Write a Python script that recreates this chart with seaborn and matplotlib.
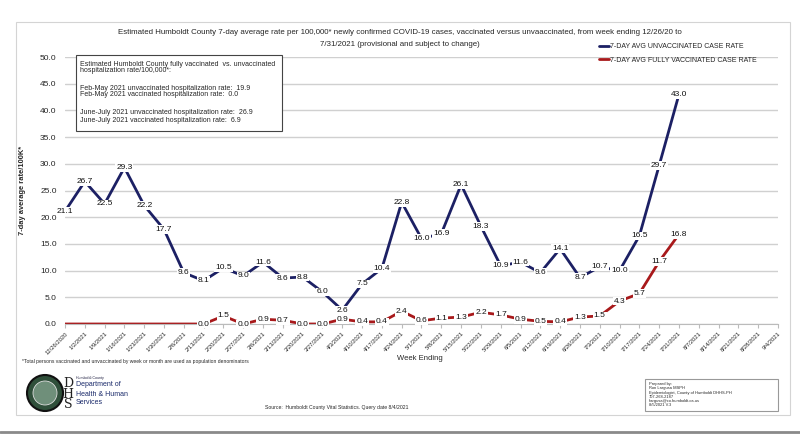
import numpy as np
import pandas as pd
import seaborn as sns
import matplotlib.pyplot as plt
from matplotlib.patches import Rectangle, Circle
from matplotlib.lines import Line2D

sns.set_style("whitegrid")
plt.rcParams['font.family'] = ['Liberation Sans', 'DejaVu Sans']

# %% Dados
weeks = ["12/26/2020", "1/2/2021", "1/9/2021", "1/16/2021", "1/23/2021", "1/30/2021",
         "2/6/2021", "2/13/2021", "2/20/2021", "2/27/2021", "3/6/2021", "3/13/2021",
         "3/20/2021", "3/27/2021", "4/3/2021", "4/10/2021", "4/17/2021", "4/24/2021",
         "5/1/2021", "5/8/2021", "5/15/2021", "5/22/2021", "5/29/2021", "6/5/2021",
         "6/12/2021", "6/19/2021", "6/26/2021", "7/3/2021", "7/10/2021", "7/17/2021",
         "7/24/2021", "7/31/2021", "8/7/2021", "8/14/2021", "8/21/2021", "8/28/2021",
         "9/4/2021"]
unvacc = [21.1, 26.7, 22.5, 29.3, 22.2, 17.7, 9.6, 8.1, 10.5, 9.0, 11.6, 8.6,
          8.8, 6.0, 2.6, 7.5, 10.4, 22.8, 16.0, 16.9, 26.1, 18.3, 10.9, 11.6,
          9.6, 14.1, 8.7, 10.7, 10.0, 16.5, 29.7, 43.0]
vacc = [0.0, 0.0, 0.0, 0.0, 0.0, 0.0, 0.0, 0.0, 1.5, 0.0, 0.9, 0.7,
        0.0, 0.0, 0.9, 0.4, 0.4, 2.4, 0.6, 1.1, 1.3, 2.2, 1.7, 0.9,
        0.5, 0.4, 1.3, 1.5, 4.3, 5.7, 11.7, 16.8]
vacc_first_label = 7  # antes disso a série não tem rótulo

unvacc_name = "7-DAY AVG UNVACCINATED CASE RATE"
vacc_name = "7-DAY AVG FULLY VACCINATED CASE RATE"
navy = "#1c2064"
red = "#a8191b"

# %% Figura
fig = plt.figure(figsize=(8, 4.37), dpi=100)
W, H = 800, 437

def fx(px):
    return px / W

def fy(py):
    return 1 - py / H

# moldura externa
fig.patches.append(Rectangle((fx(16), fy(415)), fx(790) - fx(16), fy(22) - fy(415),
                             transform=fig.transFigure, fill=False, edgecolor="#d4d4d4", lw=0.8))
fig.add_artist(Line2D([0, 1], [fy(432), fy(432)], transform=fig.transFigure, color="#8a8a8a", lw=2))

ax = fig.add_axes([fx(65), fy(324), fx(778) - fx(65), fy(57) - fy(324)])

x = np.arange(len(unvacc))
sns.lineplot(x=x, y=unvacc, ax=ax, color=navy, lw=2, label=unvacc_name)
sns.lineplot(x=x, y=vacc, ax=ax, color=red, lw=2, label=vacc_name)
ax.get_legend().remove()

# rótulos de dados
for i, v in enumerate(unvacc):
    ax.text(i, v, f"{v:.1f}", ha="center", va="center", fontsize=6, color="#111111",
            bbox=dict(facecolor="white", edgecolor="none", pad=0.6), zorder=5)
for i, v in enumerate(vacc):
    if i >= vacc_first_label:
        ax.text(i, v, f"{v:.1f}", ha="center", va="center", fontsize=6, color="#111111",
                bbox=dict(facecolor="white", edgecolor="none", pad=0.6), zorder=5)

ax.set_xlim(0, len(weeks) - 1)
ax.set_ylim(0, 50)
ax.set_yticks(np.arange(0, 50.1, 5))
ax.set_yticklabels([f"{t:.1f}" for t in np.arange(0, 50.1, 5)], fontsize=6)
ax.set_xticks(np.arange(len(weeks)))
ax.set_xticklabels(weeks, rotation=45, ha="right", rotation_mode="anchor", fontsize=4.2)
ax.tick_params(axis="x", length=3, color="#bbbbbb", pad=2, bottom=True)
ax.tick_params(axis="y", length=0, pad=6)
ax.grid(axis="x", visible=False)
ax.grid(axis="y", color="#d0d0d0", lw=1)
for s in ["left", "right", "top"]:
    ax.spines[s].set_visible(False)
ax.spines["bottom"].set_color("#bbbbbb")
ax.set_ylabel("7-day average rate/100K*", fontsize=5.4, fontweight="bold", labelpad=10)
ax.set_xlabel("")

# título
fig.text(fx(400), fy(33), "Estimated Humboldt County 7-day average rate per 100,000* newly confirmed "
         "COVID-19 cases, vaccinated versus unvaaccinated, from week ending 12/26/20 to",
         ha="center", va="center", fontsize=5.7)
fig.text(fx(400), fy(45), "7/31/2021 (provisional and subject to change)",
         ha="center", va="center", fontsize=5.7)

# legenda
handles = [Line2D([], [], color=navy, lw=2), Line2D([], [], color=red, lw=2)]
fig.legend(handles, [unvacc_name, vacc_name], loc="upper left",
           bbox_to_anchor=(fx(596), fy(40)), frameon=False, fontsize=5,
           handlelength=1.4, handletextpad=0.1, labelspacing=0.9, borderpad=0)

# caixa de hospitalização
fig.patches.append(Rectangle((fx(76), fy(131)), fx(282) - fx(76), fy(55) - fy(131),
                             transform=fig.transFigure, facecolor="white", edgecolor="#444444", lw=0.8,
                             zorder=6))
box_lines = [
    (64, "Estimated Humboldt County fully vaccinated  vs. unvaccinated"),
    (71, "hospitalization rate/100,000*:"),
    (88, "Feb-May 2021 unvaccinated hospitalization rate:  19.9"),
    (95, "Feb-May 2021 vaccinated hospitalization rate:  0.0"),
    (113, "June-July 2021 unvaccinated hospitalization rate:  26.9"),
    (120, "June-July 2021 vaccinated hospitalization rate:  6.9"),
]
for py, txt in box_lines:
    fig.text(fx(80), fy(py), txt, ha="left", va="center", fontsize=5.0, zorder=7)

# eixo x e notas
fig.text(fx(420), fy(358), "Week Ending", ha="center", va="center", fontsize=5.5)
fig.text(fx(22), fy(362), "*Total persons vaccinated and unvaccinated by week or month are used "
         "as population denominators", ha="left", va="center", fontsize=3.6)
fig.text(fx(337), fy(407), "Source:  Humboldt County Vital Statistics. Query date 8/4/2021",
         ha="center", va="center", fontsize=3.7)

# caixa "Prepared by"
fig.patches.append(Rectangle((fx(645), fy(411)), fx(778) - fx(645), fy(379) - fy(411),
                             transform=fig.transFigure, fill=False, edgecolor="#999999", lw=0.8))
fig.text(fx(649), fy(382), "Prepared by:\nRon Largusa MSPH\nEpidemiologist, County of Humboldt DHHS-PH\n"
         "707-268-2187\nrlargusa@co.humboldt.ca.us\n8/5/2021 V.3",
         ha="left", va="top", fontsize=2.9, linespacing=1.1)

# logo (aproximação)
logo = fig.add_axes([fx(24), fy(414), fx(140) - fx(24), fy(372) - fy(414)])
logo.set_xlim(0, 116)
logo.set_ylim(0, 42)
logo.set_aspect("equal")
logo.axis("off")
logo.add_patch(Circle((21, 21), 18, facecolor="#2f4f3a", edgecolor="#111111", lw=1.5))
logo.add_patch(Circle((21, 21), 12, facecolor="#6f8f7a", edgecolor="#dddddd", lw=0.6))
logo.text(44, 20, "D\nH\nS", fontsize=9, ha="center", va="center", color="#222222",
          linespacing=0.75, family="DejaVu Serif")
logo.text(52, 36, "Humboldt County", fontsize=2.6, ha="left", va="center", color="#222244")
logo.text(52, 29, "Department of", fontsize=5, ha="left", va="center", color="#1a2a6a")
logo.text(52, 20, "Health & Human", fontsize=5, ha="left", va="center", color="#1a2a6a")
logo.text(52, 11, "Services", fontsize=5, ha="left", va="center", color="#1a2a6a")

fig.savefig("out.png", dpi=100)
